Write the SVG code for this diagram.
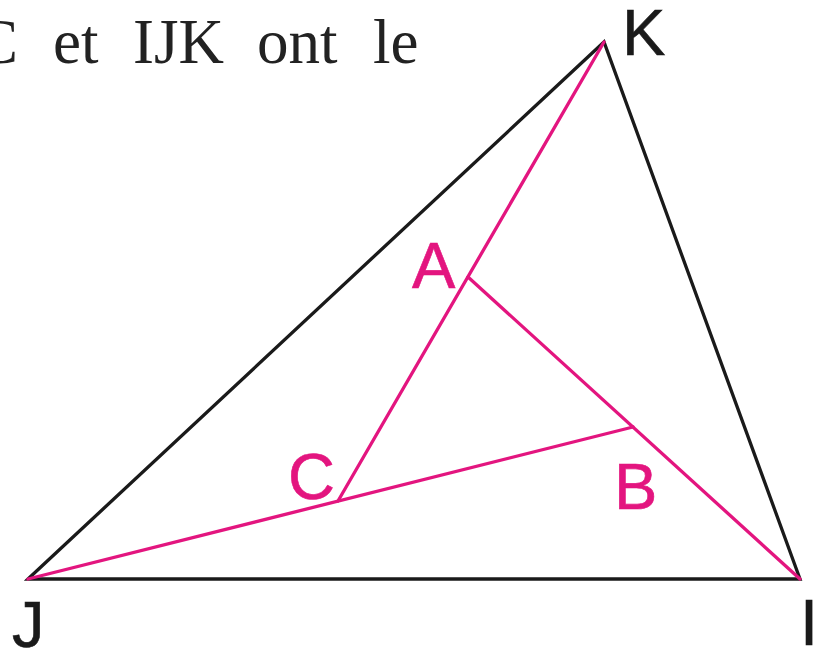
<svg xmlns="http://www.w3.org/2000/svg" width="816" height="652" viewBox="0 0 816 652">
<style>
.tri{fill:none;stroke:#1a1a1a;stroke-width:3.3;stroke-linejoin:miter}
.mg{fill:none;stroke:#e3157f;stroke-width:3.3;stroke-linecap:round}
.lb{font-family:"Liberation Sans",Arial,sans-serif;font-size:65px;stroke-width:0.6}
.bk{fill:#1a1a1a;stroke:#1a1a1a}
.pk{fill:#e3157f;stroke:#e3157f}
.tx{font-family:"Liberation Serif","Times New Roman",serif;font-size:63px;fill:#222}
</style>
<rect width="816" height="652" fill="#fff"/>
<g id="caption">
<text class="tx" x="-24" y="63">C</text>
<text class="tx" x="53" y="63">et</text>
<text class="tx" x="133" y="63">IJK</text>
<text class="tx" x="257" y="63">ont</text>
<text class="tx" x="373" y="63">le</text>
</g>
<g id="connectors">
<polygon class="tri" points="28,579 604,42 800,579"/>
<line class="mg" x1="604" y1="42" x2="338" y2="501"/>
<line class="mg" x1="800" y1="579" x2="468" y2="277"/>
<line class="mg" x1="28" y1="579" x2="633" y2="427"/>
</g>
<g id="K"><text class="lb bk" x="622" y="55">K</text></g>
<g id="J"><text class="lb bk" x="12" y="647">J</text></g>
<g id="I"><text class="lb bk" x="800" y="645">I</text></g>
<g id="A"><text class="lb pk" x="412" y="288">A</text></g>
<g id="B"><text class="lb pk" x="614" y="509">B</text></g>
<g id="C"><text class="lb pk" x="288" y="499">C</text></g>
</svg>
